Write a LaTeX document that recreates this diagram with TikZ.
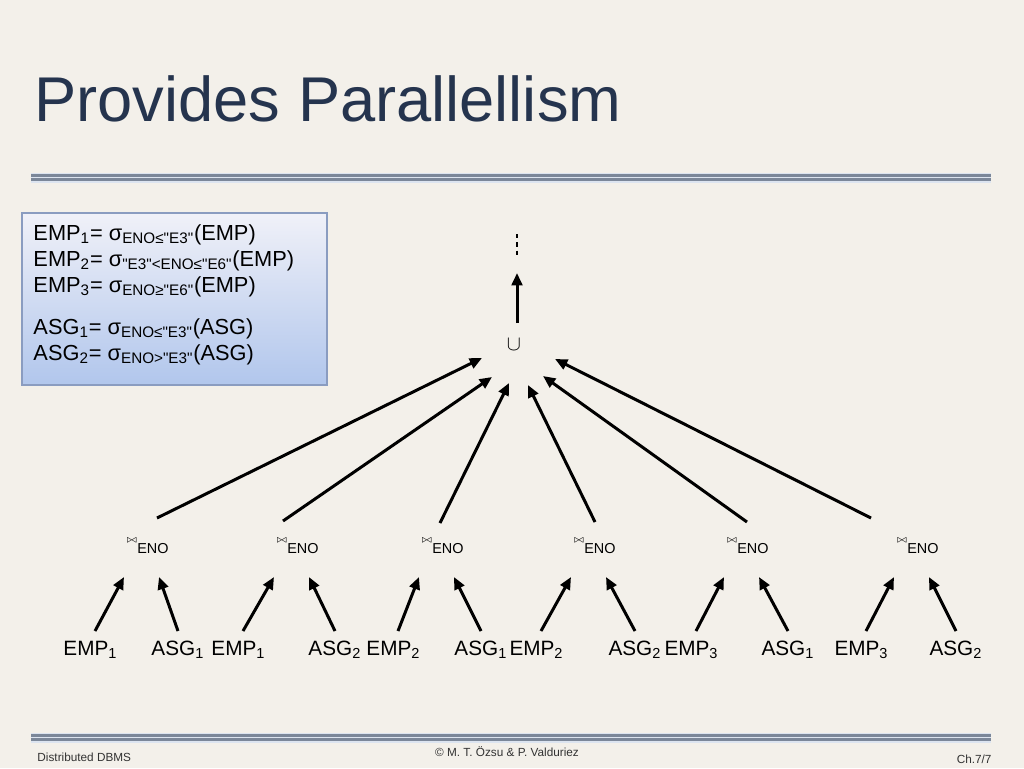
\documentclass[tikz,border=0pt]{standalone}
\usepackage{fontspec}
\setmainfont{Liberation Sans}[Ligatures=TeXOff]
\usetikzlibrary{arrows.meta}
\definecolor{paper}{HTML}{F3F0EA}
\definecolor{titleblue}{HTML}{25344E}
\definecolor{rulegray}{HTML}{7B8799}
\definecolor{rulehalo}{HTML}{DCE4F0}
\definecolor{boxtop}{HTML}{F0F1F8}
\definecolor{boxbot}{HTML}{B1C6EC}
\definecolor{boxline}{HTML}{8A9CC0}
\newcommand{\joinsym}{{\fontsize{5.5}{6}\selectfont\raisebox{6pt}{$\bowtie$}}}

\begin{document}
\begin{tikzpicture}[x=0.02cm,y=-0.02cm,line width=1.7pt,>={Triangle[length=7pt,width=6pt]},
  leaf/.style={anchor=base west,inner sep=0pt,font=\fontsize{11.8}{12}\selectfont},
  joinlbl/.style={anchor=base west,inner sep=0pt,font=\fontsize{8.2}{9}\selectfont},
  sel/.style={anchor=base west,inner sep=0pt,font=\fontsize{12.4}{13}\selectfont},
  foot/.style={inner sep=0pt,font=\fontsize{6.7}{7}\selectfont,black!80}]
  \fill[paper] (0,0) rectangle (1024,768);
  % titel und doppelte linien
  \node[anchor=base west,inner sep=0pt,text=titleblue,font=\fontsize{36}{40}\selectfont] (title) at (33,121) {Provides Parallellism};
  \foreach \y in {177.5,737.5} {
    \fill[rulehalo] (31,\y-5) rectangle (991,\y+5);
    \draw[rulegray,line width=1.3pt] (31,\y-2) -- (991,\y-2) (31,\y+2) -- (991,\y+2);
  }
  % fragmente
  \shade[top color=boxtop,bottom color=boxbot,draw=boxline,line width=0.7pt] (22,213) rectangle (327,385);
  \node[sel] (e1) at (32,240) {EMP\textsubscript{1}= σ\textsubscript{ENO≤"E3"}(EMP)};
  \node[sel] (e2) at (32,266) {EMP\textsubscript{2}= σ\textsubscript{"E3"<ENO≤"E6"}(EMP)};
  \node[sel] (e3) at (32,292) {EMP\textsubscript{3}= σ\textsubscript{ENO≥"E6"}(EMP)};
  \node[sel] (a1) at (32,334) {ASG\textsubscript{1}= σ\textsubscript{ENO≤"E3"}(ASG)};
  \node[sel] (a2) at (32,360) {ASG\textsubscript{2}= σ\textsubscript{ENO>"E3"}(ASG)};
  % vereinigung
  \node[inner sep=0pt,font=\fontsize{12}{12}\selectfont] (un) at (514,345) {$\cup$};
  \coordinate (top) at (517,273);
  \coordinate (dots) at (517,234);
  \draw[->] ([shift={(3,-22)}]un.center) -- (top);
  \draw[line width=1pt,dash pattern=on 2.5pt off 2.2pt] (dots) -- ++(0,23);
  % joins
  \foreach \n/\x in {1/125,2/275,3/420,4/572,5/725,6/895}
    \node[joinlbl] (j\n) at (\x,553) {\joinsym ENO};
  \foreach \i/\sx/\sy/\ex/\ey in {1/32/-35/-32/13,2/8/-32/-22/32,3/20/-30/-5/38,4/23/-31/14/40,5/22/-31/29/31,6/-24/-35/41/14}
    \draw[->] ([shift={(\sx,\sy)}]j\i.base west) -- ([shift={(\ex,\ey)}]un.center);
  % blaetter
  \foreach \n/\x/\t in {1/62/EMP\textsubscript{1},2/150/ASG\textsubscript{1},3/210/EMP\textsubscript{1},4/307/ASG\textsubscript{2},
    5/365/EMP\textsubscript{2},6/453/ASG\textsubscript{1},7/508/EMP\textsubscript{2},8/607/ASG\textsubscript{2},
    9/663/EMP\textsubscript{3},10/760/ASG\textsubscript{1},11/833/EMP\textsubscript{3},12/928/ASG\textsubscript{2}}
    \node[leaf] (l\n) at (\x,655) {\t};
  \foreach \l/\j in {1/1,3/2,5/3,7/4,9/5,11/6}
    \draw[->] ([shift={(33,-24)}]l\l.base west) -- ([shift={(-1,24)}]j\j.base west);
  \foreach \l/\j in {2/1,4/2,6/3,8/4,10/5,12/6}
    \draw[->] ([shift={(28,-24)}]l\l.base west) -- ([shift={(34,24)}]j\j.base west);
  % fusszeile
  \node[foot,anchor=base west] (ft1) at (36,761) {Distributed DBMS};
  \node[foot,anchor=base] (ft2) at (507,756) {© M. T. Özsu \& P. Valduriez};
  \node[foot,anchor=base east] (ft3) at (993,763) {Ch.7/7};
\end{tikzpicture}
\end{document}
